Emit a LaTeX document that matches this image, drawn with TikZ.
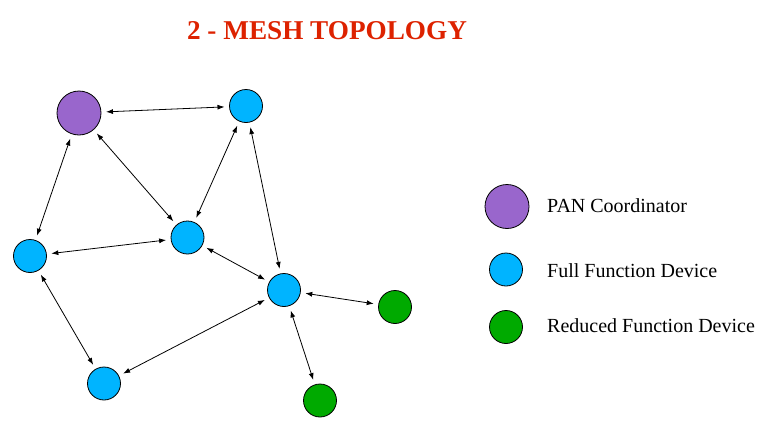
\documentclass[tikz,border=0pt]{standalone}
\usepackage{fontspec}
\setmainfont{Liberation Serif}
\usepackage{tikz}
\usepackage{xcolor}
\usetikzlibrary{arrows.meta}
\tikzset{>={Latex[length=7pt,width=5pt]}}
\definecolor{pancol}{RGB}{153,102,204}
\definecolor{ffdcol}{RGB}{0,180,255}
\definecolor{rfdcol}{RGB}{0,170,0}
\definecolor{titlecol}{RGB}{221,34,0}
\tikzset{
  dev/.style={circle, draw, line width=0.8pt, inner sep=0pt, outer sep=5pt},
  pan/.style={dev, fill=pancol, minimum size=44pt},
  ffd/.style={dev, fill=ffdcol, minimum size=33pt},
  rfd/.style={dev, fill=rfdcol, minimum size=33pt},
  link/.style={<->, line width=0.8pt},
  legtext/.style={anchor=base west, inner sep=0pt, font=\fontsize{20}{22}\selectfont}
}

\begin{document}
\begin{tikzpicture}[x=1pt, y=-1pt]
    \useasboundingbox (0, 0) rectangle (780, 429);
    \node[anchor=base, inner sep=0pt, text=titlecol, font=\bfseries\fontsize{27.2}{30}\selectfont] (title) at (327, 39) {2 - MESH TOPOLOGY};

    % network
    \node[pan] (coord) at (79, 113) {};
    \node[ffd] (top) at (246, 106) {};
    \node[ffd] (mid) at (187.5, 237.5) {};
    \node[ffd] (left) at (30, 256) {};
    \node[ffd] (hub) at (284, 290) {};
    \node[ffd] (low) at (104, 383.5) {};
    \node[rfd] (rfda) at (395, 307) {};
    \node[rfd] (rfdb) at (320, 400.5) {};

    \draw[link] (coord) -- (top);
    \draw[link] (coord) -- (left);
    \draw[link] (coord) -- (mid);
    \draw[link] (top) -- (mid);
    \draw[link] (top) -- (hub);
    \draw[link] (left) -- (mid);
    \draw[link] (mid) -- (hub);
    \draw[link] (left) -- (low);
    \draw[link] (low) -- (hub);
    \draw[link] (hub) -- (rfda);
    \draw[link] (hub) -- (rfdb);

    % legend
    \node[pan] (legpan) at (507, 206.5) {};
    \node[ffd] (legffd) at (506, 269.5) {};
    \node[rfd] (legrfd) at (506, 327) {};
    \node[legtext] (txtpan) at (547, 212) {PAN Coordinator};
    \node[legtext] (txtffd) at (547, 277) {Full Function Device};
    \node[legtext] (txtrfd) at (547, 332) {Reduced Function Device};
\end{tikzpicture}
\end{document}
